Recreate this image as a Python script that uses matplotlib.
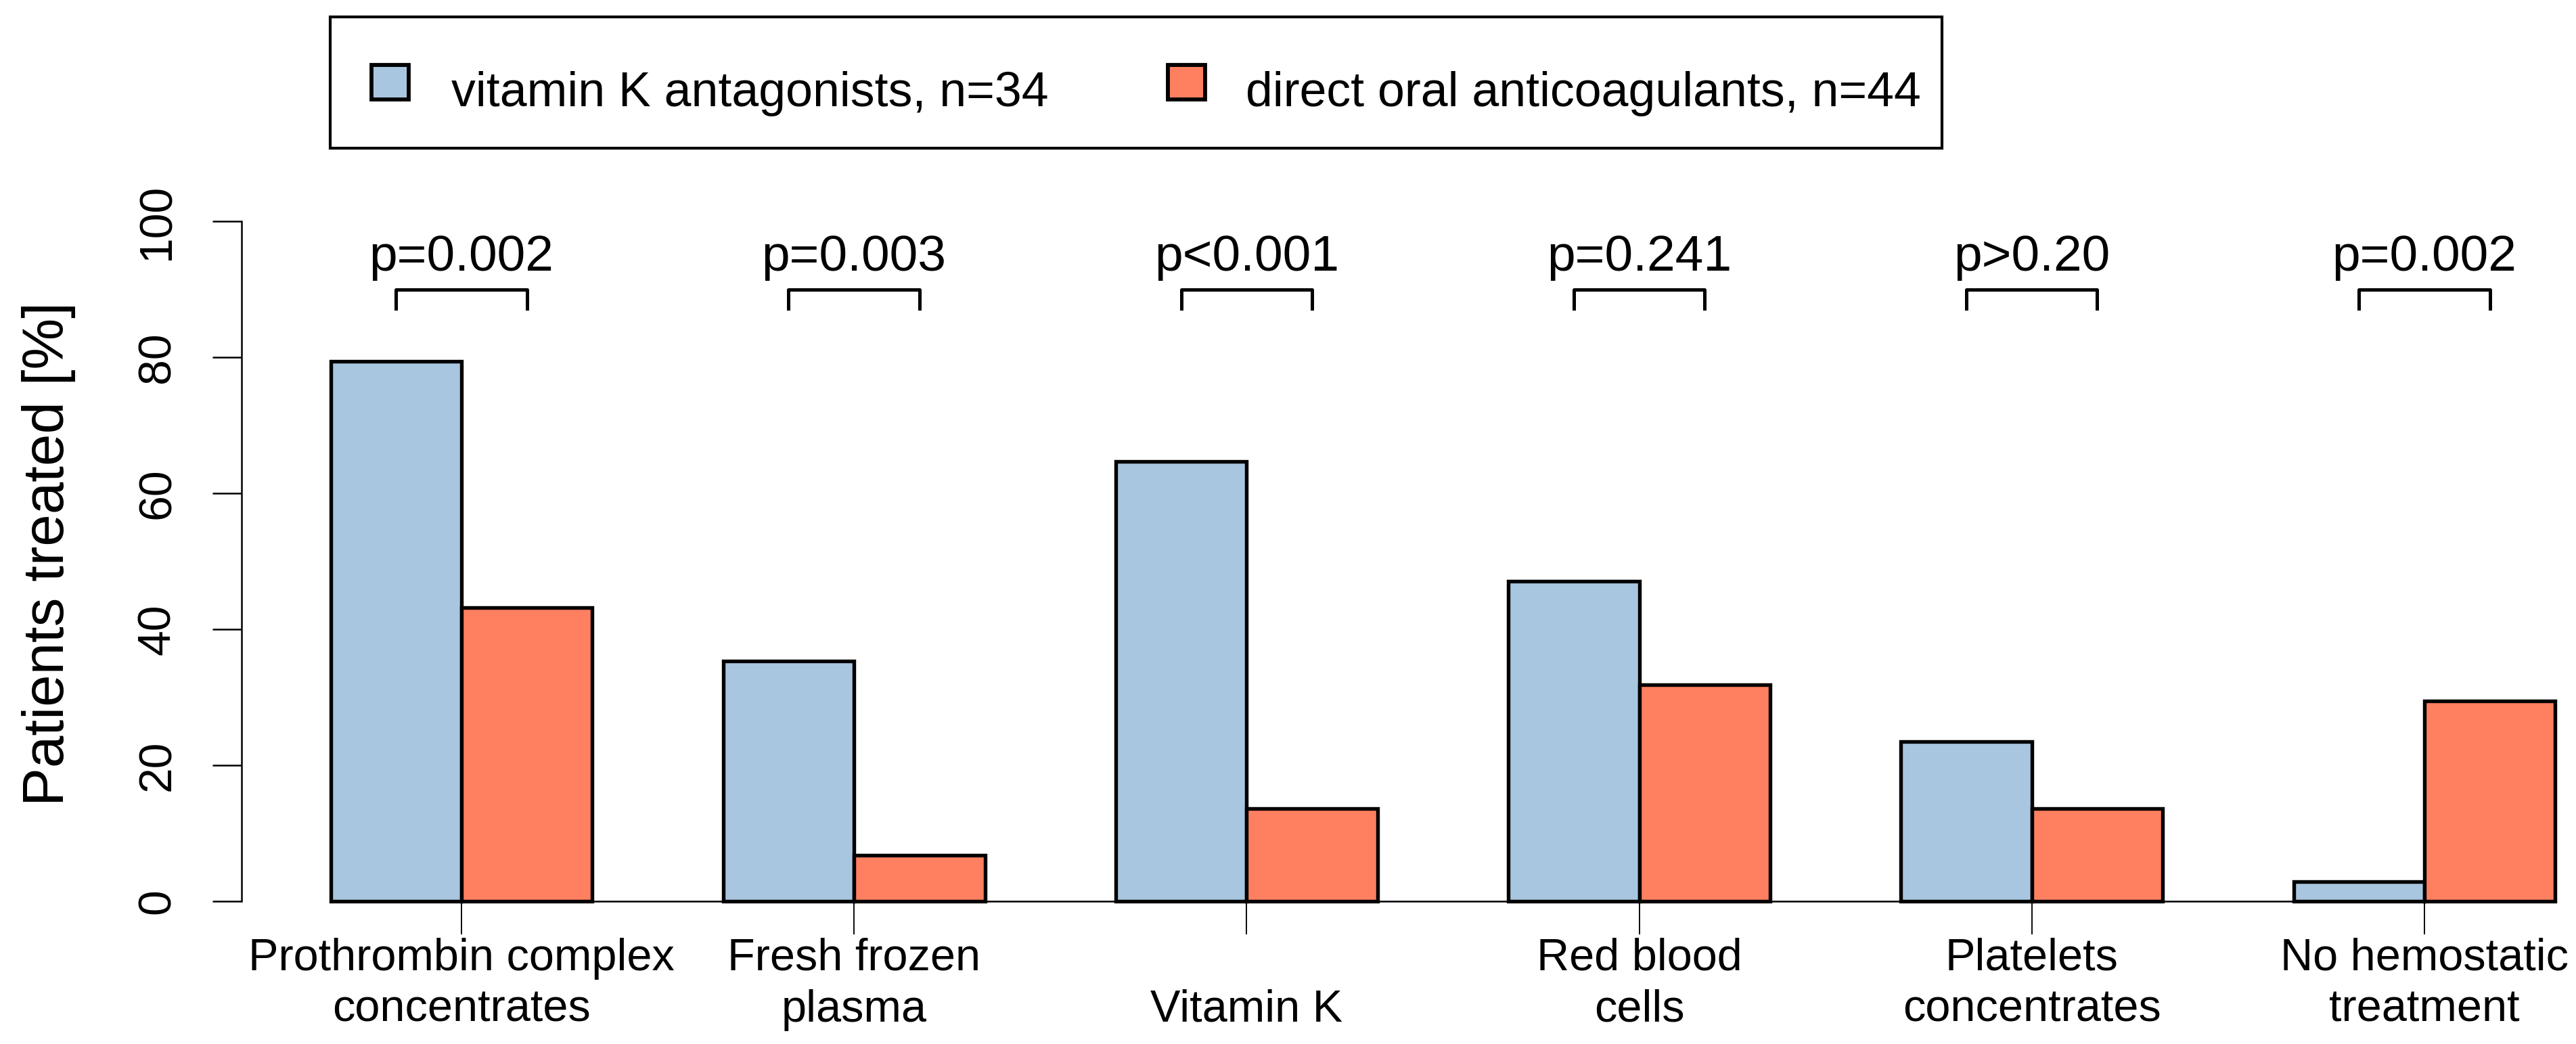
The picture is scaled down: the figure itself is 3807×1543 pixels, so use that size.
import numpy as np
import matplotlib.pyplot as plt
from matplotlib.patches import Rectangle
import matplotlib.transforms as mtransforms

plt.rcParams['font.family'] = ['Liberation Sans', 'DejaVu Sans']

# data (percent of patients)
categories = ["Prothrombin complex\nconcentrates", "Fresh frozen\nplasma", "Vitamin K",
              "Red blood\ncells", "Platelets\nconcentrates", "No hemostatic\ntreatment"]
vka = [79.4, 35.3, 64.7, 47.1, 23.5, 2.9]
doac = [43.2, 6.8, 13.6, 31.8, 13.6, 29.5]
p_values = ["p=0.002", "p=0.003", "p<0.001", "p=0.241", "p>0.20", "p=0.002"]
legend_labels = ["vitamin K antagonists, n=34", "direct oral anticoagulants, n=44"]

blue = "#A9C6E0"
red = "#FF8060"

W, H = 3807, 1543
fig = plt.figure(figsize=(W / 300, H / 300), dpi=300)
ax = fig.add_axes([357 / W, 0.1107, 1 - 357 / W, 0.7034])

# R style barplot positions, beside=TRUE, space=c(0,1)
n = len(categories)
centers = 2 + 3 * np.arange(n)
ax.bar(centers - 0.5, vka, width=1, color=blue, edgecolor="black", linewidth=1.3, zorder=3)
ax.bar(centers + 0.5, doac, width=1, color=red, edgecolor="black", linewidth=1.3, zorder=3)

ax.set_xlim(0.32, 0.32 + (W - 357) / 193.4)
ax.set_ylim(-4, 104)

for s in ["top", "right"]:
    ax.spines[s].set_visible(False)
ax.spines["left"].set_bounds(0, 100)
ax.spines["left"].set_linewidth(0.6)
ax.spines["bottom"].set_position(("data", 0))
ax.spines["bottom"].set_bounds(centers[0], centers[-1])
ax.spines["bottom"].set_linewidth(0.6)

ax.set_yticks([0, 20, 40, 60, 80, 100])
ax.set_yticklabels(["0", "20", "40", "60", "80", "100"], fontsize=16.3)
ax.tick_params(axis="y", length=10.3, width=0.6, pad=19.5)
for lab in ax.get_yticklabels():
    lab.set_rotation(90)
    lab.set_ha("center")
    lab.set_va("center")

ax.set_xticks(centers)
ax.set_xticklabels([])
ax.tick_params(axis="x", length=11.8, width=0.45)

# category labels, last line aligned
trans = mtransforms.blended_transform_factory(ax.transData, fig.transFigure)
for c, lab in zip(centers, categories):
    ax.text(c, (H - 1524) / H, lab, transform=trans, ha="center", va="bottom",
            fontsize=16, linespacing=1.3, multialignment="center")

ax.set_ylabel("Patients treated [%]", fontsize=20.5)
ax.yaxis.set_label_coords(-0.071, 0.51)

# significance brackets
for c, p in zip(centers, p_values):
    ax.plot([c - 0.5, c - 0.5, c + 0.5, c + 0.5], [87.2, 90, 90, 87.2],
            color="black", linewidth=1.2, clip_on=False)
    ax.text(c, 92.7, p, ha="center", va="baseline", fontsize=18)

# legend box above the plot
fig.patches.append(Rectangle((488 / W, 1 - 219 / H), (2870 - 488) / W, 194 / H,
                             transform=fig.transFigure, facecolor="white",
                             edgecolor="black", linewidth=1.0))
for x0, col, tx, lab in [(549, blue, 667, legend_labels[0]), (1726, red, 1841, legend_labels[1])]:
    fig.patches.append(Rectangle((x0 / W, 1 - 147 / H), 55 / W, 51 / H,
                                 transform=fig.transFigure, facecolor=col,
                                 edgecolor="black", linewidth=1.4))
    fig.text(tx / W, 1 - 157 / H, lab, ha="left", va="baseline", fontsize=17.2)

fig.savefig("out.png", dpi=300)
